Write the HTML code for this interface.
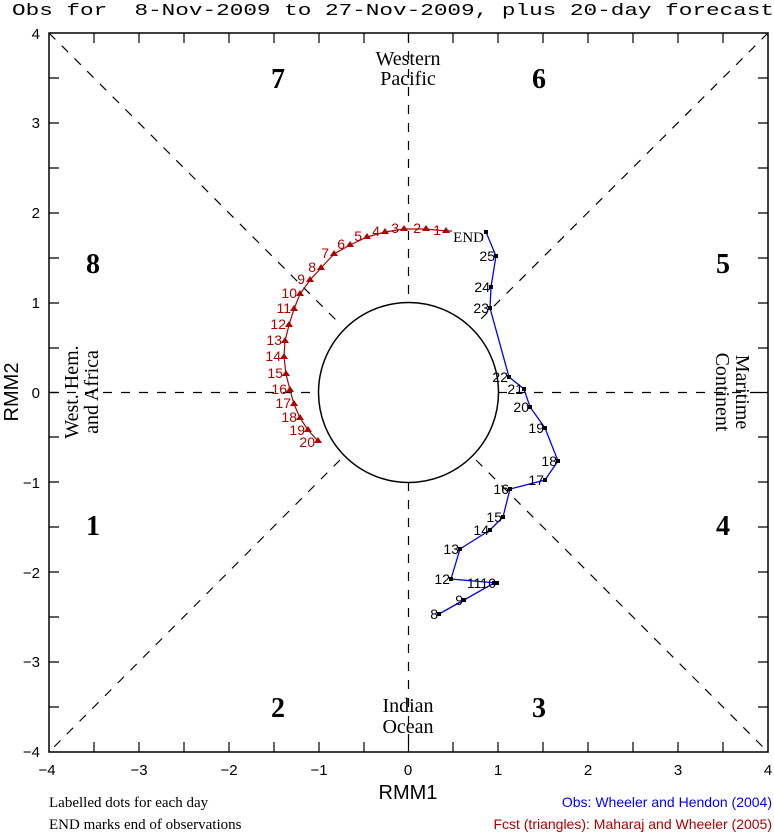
<!DOCTYPE html>
<html><head><meta charset="utf-8"><style>
html,body{margin:0;padding:0;background:#fff;}
svg{display:block}
.m{font-family:"Liberation Mono",monospace}
.s{font-family:"Liberation Sans",sans-serif}
.r{font-family:"Liberation Serif",serif}
</style></head><body>
<svg width="774" height="833" viewBox="0 0 774 833" xmlns="http://www.w3.org/2000/svg">
<rect width="774" height="833" fill="#fff"/>
<text x="12" y="15" class="m" font-size="17" fill="#000" textLength="762" lengthAdjust="spacingAndGlyphs" xml:space="preserve">Obs for  8-Nov-2009 to 27-Nov-2009, plus 20-day forecast</text>
<g stroke="#000" stroke-width="1.2" stroke-dasharray="9,9" fill="none">
<line x1="49" y1="33" x2="340" y2="324"/>
<line x1="476" y1="460" x2="768" y2="752"/>
<line x1="768" y1="33" x2="476" y2="324"/>
<line x1="340" y1="460" x2="49" y2="752"/>
<line x1="408.5" y1="33" x2="408.5" y2="302"/>
<line x1="408.5" y1="482" x2="408.5" y2="752"/>
<line x1="49" y1="392.5" x2="318" y2="392.5"/>
<line x1="498" y1="392.5" x2="768" y2="392.5"/>
</g>
<circle cx="408.5" cy="392.5" r="90" fill="none" stroke="#000" stroke-width="1.5"/>
<rect x="49" y="33" width="719" height="719" fill="none" stroke="#000" stroke-width="1.5"/>
<g stroke="#000" stroke-width="1.2">
<path d="M94,752v-10M139,752v-10M184,752v-10M229,752v-10M274,752v-10M319,752v-10M364,752v-10M408.5,752v-10M453,752v-10M498,752v-10M543,752v-10M588,752v-10M633,752v-10M678,752v-10M723,752v-10
M94,33v10M139,33v10M184,33v10M229,33v10M274,33v10M319,33v10M364,33v10M408.5,33v10M453,33v10M498,33v10M543,33v10M588,33v10M633,33v10M678,33v10M723,33v10
M49,78h10M49,123h10M49,168h10M49,213h10M49,258h10M49,303h10M49,348h10M49,392.5h10M49,437h10M49,482h10M49,527h10M49,572h10M49,617h10M49,662h10M49,707h10
M768,78h-10M768,123h-10M768,168h-10M768,213h-10M768,258h-10M768,303h-10M768,348h-10M768,392.5h-10M768,437h-10M768,482h-10M768,527h-10M768,572h-10M768,617h-10M768,662h-10M768,707h-10"/>
</g>
<g class="s" font-size="15" fill="#000" text-anchor="end">
<text x="40" y="39">4</text><text x="40" y="128">3</text><text x="40" y="218">2</text><text x="40" y="308">1</text><text x="40" y="398">0</text><text x="40" y="488">−1</text><text x="40" y="578">−2</text><text x="40" y="667">−3</text><text x="40" y="757">−4</text>
</g>
<g class="s" font-size="15" fill="#000" text-anchor="middle">
<text x="47" y="775">−4</text><text x="139" y="775">−3</text><text x="229" y="775">−2</text><text x="319" y="775">−1</text><text x="408" y="775">0</text><text x="498" y="775">1</text><text x="588" y="775">2</text><text x="678" y="775">3</text><text x="768" y="775">4</text>
<text x="408" y="799" font-size="20">RMM1</text>
</g>
<text transform="translate(18,392) rotate(-90)" class="s" font-size="20" text-anchor="middle">RMM2</text>
<g class="r" font-size="28" font-weight="bold" text-anchor="middle">
<text x="278" y="88">7</text><text x="539" y="88">6</text><text x="93" y="273">8</text><text x="723" y="273">5</text>
<text x="93" y="535">1</text><text x="723" y="535">4</text><text x="278" y="717">2</text><text x="539" y="717">3</text>
</g>
<g class="r" font-size="20" text-anchor="middle">
<text x="408" y="65">Western</text><text x="408" y="85">Pacific</text>
<text x="408" y="712">Indian</text><text x="408" y="733">Ocean</text>
<text transform="translate(78,392) rotate(-90)">West. Hem.</text>
<text transform="translate(98,392) rotate(-90)">and Africa</text>
<text transform="translate(736,392) rotate(90)">Maritime</text>
<text transform="translate(716,392) rotate(90)">Continent</text>
</g>
<g class="r" font-size="15">
<text x="49" y="807">Labelled dots for each day</text>
<text x="49" y="829">END marks end of observations</text>
</g>
<g class="s" font-size="14" text-anchor="end">
<text x="772" y="807" fill="#0000ff">Obs: Wheeler and Hendon (2004)</text>
<text x="772" y="829" fill="#b00000">Fcst (triangles): Maharaj and Wheeler (2005)</text>
</g>
<polyline fill="none" stroke="#0000ff" stroke-width="1.3" points="439,614 464,600 494,583 497,583 451,579 460,549 490,530 503,517 510,489 545,480 558,461 545,428 530,407 524,389 509,377 490,308 491,287 496,256 486,232"/>
<g fill="#000">
<rect x="437" y="612" width="4" height="4"/><rect x="462" y="598" width="4" height="4"/><rect x="492" y="581" width="4" height="4"/><rect x="495" y="581" width="4" height="4"/><rect x="449" y="577" width="4" height="4"/><rect x="458" y="547" width="4" height="4"/><rect x="488" y="528" width="4" height="4"/><rect x="501" y="515" width="4" height="4"/><rect x="508" y="487" width="4" height="4"/><rect x="543" y="478" width="4" height="4"/><rect x="556" y="459" width="4" height="4"/><rect x="543" y="426" width="4" height="4"/><rect x="528" y="405" width="4" height="4"/><rect x="522" y="387" width="4" height="4"/><rect x="507" y="375" width="4" height="4"/><rect x="488" y="306" width="4" height="4"/><rect x="489" y="285" width="4" height="4"/><rect x="494" y="254" width="4" height="4"/><rect x="484" y="230" width="4" height="4"/>
</g>
<g class="s" font-size="14" fill="#000" text-anchor="end">
<text x="438" y="619">8</text><text x="463" y="605">9</text><text x="496" y="588">1110</text><text x="450" y="584">12</text><text x="459" y="554">13</text><text x="489" y="535">14</text><text x="502" y="522">15</text><text x="509" y="494">16</text><text x="544" y="485">17</text><text x="557" y="466">18</text><text x="544" y="433">19</text><text x="529" y="412">20</text><text x="523" y="394">21</text><text x="508" y="382">22</text><text x="489" y="313">23</text><text x="490" y="292">24</text><text x="495" y="261">25</text>
<text x="484" y="242" class="r" font-size="15">END</text>
</g>
<polyline fill="none" stroke="#b00000" stroke-width="1.2" points="452,231 446,231 426,229 404,229 385,232 367,237 350,245 334,254 321,268 310,280 300,294 294,309 289,325 285,341 284,357 286,374 290,390 294,404 300,418 308,430 318,441"/>
<g fill="#b00000">
<path d="M446,227l4,6h-8z M426,225l4,6h-8z M404,225l4,6h-8z M385,228l4,6h-8z M367,233l4,6h-8z M350,241l4,6h-8z M334,250l4,6h-8z M321,264l4,6h-8z M310,276l4,6h-8z M300,290l4,6h-8z M294,305l4,6h-8z M289,321l4,6h-8z M285,337l4,6h-8z M284,353l4,6h-8z M286,370l4,6h-8z M290,386l4,6h-8z M294,400l4,6h-8z M300,414l4,6h-8z M308,426l4,6h-8z M318,437l4,6h-8z"/>
</g>
<g class="s" font-size="14" fill="#b00000" text-anchor="end">
<text x="441" y="235">1</text><text x="421" y="233">2</text><text x="399" y="233">3</text><text x="380" y="236">4</text><text x="362" y="241">5</text><text x="345" y="249">6</text><text x="329" y="258">7</text><text x="316" y="272">8</text><text x="305" y="284">9</text><text x="297" y="298">10</text><text x="291" y="313">11</text><text x="286" y="329">12</text><text x="282" y="345">13</text><text x="281" y="361">14</text><text x="283" y="378">15</text><text x="287" y="394">16</text><text x="291" y="408">17</text><text x="297" y="422">18</text><text x="305" y="435">19</text><text x="315" y="447">20</text>
</g>
</svg>
</body></html>
